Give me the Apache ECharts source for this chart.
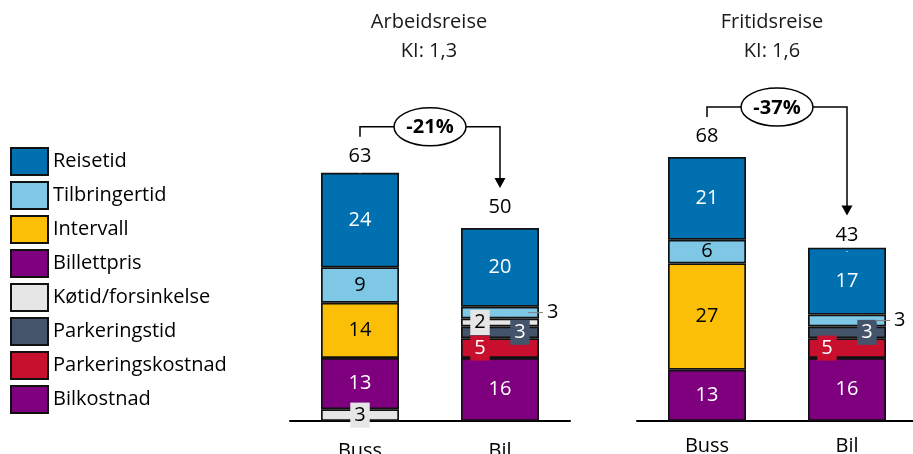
<!DOCTYPE html>
<html>
<head>
<meta charset="utf-8">
<script src="https://cdn.jsdelivr.net/npm/echarts@6/dist/echarts.min.js"></script>
<style>
  html, body { margin: 0; padding: 0; background: #fff; }
  #chart { width: 913px; height: 454px; }
</style>
</head>
<body>
<div id="chart"></div>
<script>
// Categories and panels
const categories = ['Buss', 'Bil'];
const panelTitles = ['Arbeidsreise', 'Fritidsreise'];
const panelSubtitles = ['KI: 1,3', 'KI: 1,6'];
const changeLabels = ['-21%', '-37%'];

// Values per component: [Arbeidsreise Buss, Arbeidsreise Bil, Fritidsreise Buss, Fritidsreise Bil]
const bilkostnad        = [null, 16, null, 16];
const parkeringskostnad = [null, 5,  null, 5];
const parkeringstid     = [null, 3,  null, 3];
const kotid             = [3,    2,  null, null];
const billettpris       = [13, null, 13,   null];
const intervall         = [14, null, 27,   null];
const tilbringertid     = [9,    3,  6,    3];
const reisetid          = [24,  20,  21,   17];
const totals            = [63,  50,  68,   43];

// Stack order from the bottom up
const stackOrder = [
  ['Bilkostnad', bilkostnad],
  ['Parkeringskostnad', parkeringskostnad],
  ['Parkeringstid', parkeringstid],
  ['Køtid/forsinkelse', kotid],
  ['Billettpris', billettpris],
  ['Intervall', intervall],
  ['Tilbringertid', tilbringertid],
  ['Reisetid', reisetid]
];
const legendOrder = ['Reisetid', 'Tilbringertid', 'Intervall', 'Billettpris',
  'Køtid/forsinkelse', 'Parkeringstid', 'Parkeringskostnad', 'Bilkostnad'];

const colors = {
  'Reisetid': '#0070B0',
  'Tilbringertid': '#7EC8E6',
  'Intervall': '#FBBF07',
  'Billettpris': '#7F007F',
  'Køtid/forsinkelse': '#E6E6E6',
  'Parkeringstid': '#44546A',
  'Parkeringskostnad': '#C8102E',
  'Bilkostnad': '#7F007F'
};
const whiteText = { 'Reisetid': 1, 'Billettpris': 1, 'Bilkostnad': 1, 'Parkeringstid': 1, 'Parkeringskostnad': 1 };
const boxed = { 'Køtid/forsinkelse': 1, 'Parkeringstid': 1, 'Parkeringskostnad': 1 };
const bilShift = { 'Køtid/forsinkelse': -20, 'Parkeringstid': 20, 'Parkeringskostnad': -20 };

const FONT = '"Open Sans", "Noto Sans", sans-serif';
const FS = 20;
const BASE = { fontFamily: FONT, fontSize: FS };
const BAR_W = 78;

const grids = [
  { left: 290, width: 280, top: 27, height: 394, outerBoundsMode: 'none', containLabel: false },
  { left: 637, width: 280, top: 27, height: 394, outerBoundsMode: 'none', containLabel: false }
];
const labelMargins = [20, 15];

const xAxes = grids.map((g, p) => ({
  type: 'category', gridIndex: p, data: categories,
  axisLine: { lineStyle: { color: '#000', width: 2 } },
  axisTick: { show: false },
  axisLabel: Object.assign({ color: '#000', margin: labelMargins[p] }, BASE)
}));
const yAxes = grids.map((g, p) => ({
  type: 'value', gridIndex: p, min: 0, max: 100, show: false, splitLine: { show: false }
}));

const series = [];
for (let p = 0; p < 2; p++) {
  stackOrder.forEach(([name, vals]) => {
    const data = [0, 1].map(ci => {
      const v = vals[p * 2 + ci];
      if (v == null) return null;
      const label = {};
      if (ci === 1 && bilShift[name] !== undefined) label.offset = [bilShift[name], 0];
      if (ci === 1 && name === 'Tilbringertid') {
        label.position = 'right';
        label.distance = 8;
        label.color = '#000';
      }
      return { value: v, label: label };
    });
    const lbl = Object.assign({
      show: true, position: 'inside',
      color: whiteText[name] ? '#fff' : '#000'
    }, BASE);
    if (boxed[name]) {
      lbl.backgroundColor = colors[name];
      lbl.padding = [3, 4, 2, 4];
    }
    series.push({
      name: name, type: 'bar', stack: 'p' + p,
      xAxisIndex: p, yAxisIndex: p,
      barWidth: BAR_W,
      itemStyle: { color: colors[name], borderColor: '#111', borderWidth: 1.7 },
      label: lbl,
      emphasis: { disabled: true },
      data: data
    });
  });
  // total labels above each column
  series.push({
    name: 'Sum ' + p, type: 'scatter', xAxisIndex: p, yAxisIndex: p,
    symbol: 'rect', symbolSize: 1, itemStyle: { color: '#fff', opacity: 1 }, silent: true,
    label: Object.assign({ show: true, position: 'top', distance: 6, color: '#000',
      opacity: 1, textBorderWidth: 0, formatter: d => d.value[1] }, BASE),
    emphasis: { disabled: true },
    data: [[0, totals[p * 2]], [1, totals[p * 2 + 1]]],
    z: 5
  });
}

const chart = echarts.init(document.getElementById('chart'), null, { renderer: 'canvas' });
chart.setOption({
  animation: false,
  backgroundColor: '#fff',
  grid: grids,
  xAxis: xAxes,
  yAxis: yAxes,
  legend: {
    data: legendOrder, orient: 'vertical', left: 5, top: 142,
    itemWidth: 37, itemHeight: 27, itemGap: 5, icon: 'rect',
    selectedMode: false,
    textStyle: Object.assign({ color: '#000', lineHeight: 27 }, BASE)
  },
  series: series
});

// Titles, change brackets and leader lines, placed from the chart's own scales
const graphics = [];
const titleX = [429, 772];
for (let p = 0; p < 2; p++) {
  graphics.push({ type: 'text', x: titleX[p], y: 22,
    style: { text: panelTitles[p], fill: '#1a1a1a', textAlign: 'center', textVerticalAlign: 'middle', font: FS + 'px ' + FONT } });
  graphics.push({ type: 'text', x: titleX[p], y: 51,
    style: { text: panelSubtitles[p], fill: '#1a1a1a', textAlign: 'center', textVerticalAlign: 'middle', font: FS + 'px ' + FONT } });

  const a = chart.convertToPixel({ gridIndex: p }, [0, totals[p * 2]]);
  const b = chart.convertToPixel({ gridIndex: p }, [1, totals[p * 2 + 1]]);
  const yh = a[1] - 46;
  const tipY = b[1] - 36;
  const stroke = { stroke: '#000', lineWidth: 1.5, fill: null };
  graphics.push({ type: 'polyline', shape: { points: [[a[0], a[1] - 36], [a[0], yh], [b[0], yh], [b[0], tipY - 9]] }, style: stroke, z: 10 });
  graphics.push({ type: 'polygon', shape: { points: [[b[0] - 5.5, tipY - 10], [b[0] + 5.5, tipY - 10], [b[0], tipY]] }, style: { fill: '#000' }, z: 10 });
  const mx = (a[0] + b[0]) / 2;
  graphics.push({ type: 'ellipse', shape: { cx: mx, cy: yh, rx: 36, ry: 19 }, style: { fill: '#fff', stroke: '#000', lineWidth: 1.5 }, z: 11 });
  graphics.push({ type: 'text', x: mx, y: yh + 1, z: 12,
    style: { text: changeLabels[p], fill: '#000', textAlign: 'center', textVerticalAlign: 'middle', font: 'bold ' + FS + 'px ' + FONT } });

  // leader line for the small Tilbringertid segment in the Bil column
  let base = 0;
  for (const [name, vals] of stackOrder) {
    if (name === 'Tilbringertid') break;
    base += vals[p * 2 + 1] || 0;
  }
  const mid = chart.convertToPixel({ gridIndex: p }, [1, base + tilbringertid[p * 2 + 1] / 2]);
  const edge = mid[0] + BAR_W / 2;
  graphics.push({ type: 'line', shape: { x1: edge - 11, y1: mid[1], x2: edge + 4, y2: mid[1] },
    style: { stroke: '#7f7f7f', lineWidth: 1 }, z: 12 });
}
chart.setOption({ graphic: graphics });
</script>
</body>
</html>
